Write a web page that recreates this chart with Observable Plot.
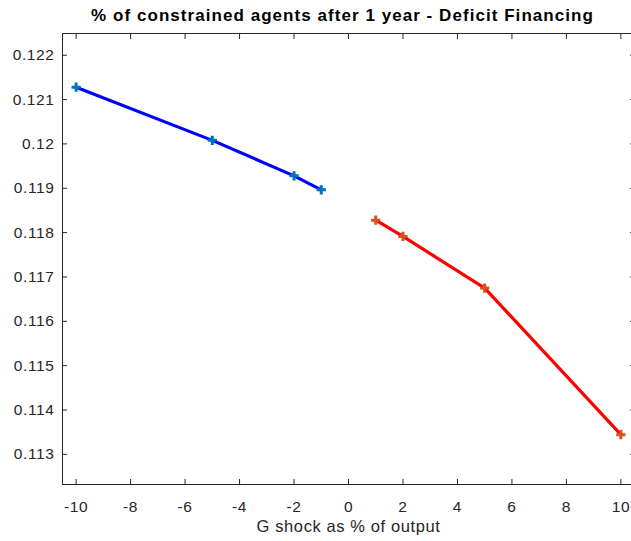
<!DOCTYPE html>
<html>
<head>
<meta charset="utf-8">
<script src="https://cdn.jsdelivr.net/npm/d3@7"></script>
<script src="https://cdn.jsdelivr.net/npm/@observablehq/plot@0.6"></script>
<style>
  html, body { margin: 0; padding: 0; background: #fff; overflow: hidden; }
</style>
</head>
<body>
<div id="chart"></div>
<script>
// Share of constrained agents one year after a government spending shock
// (deficit financed), for negative and positive shocks.
const shocksNeg = [-10, -5, -2, -1];
const constrainedNeg = [0.12128, 0.12008, 0.11928, 0.118965];
const shocksPos = [1, 2, 5, 10];
const constrainedPos = [0.11828, 0.117913, 0.11675, 0.113444];

const xTicks = [-10, -8, -6, -4, -2, 0, 2, 4, 6, 8, 10];
const yTicks = [0.113, 0.114, 0.115, 0.116, 0.117, 0.118, 0.119, 0.12, 0.121, 0.122];

const titleText = "% of constrained agents after 1 year - Deficit Financing";
const xLabelText = "G shock as % of output";

const neg = shocksNeg.map((x, i) => ({x, y: constrainedNeg[i]}));
const pos = shocksPos.map((x, i) => ({x, y: constrainedPos[i]}));

const ink = "#262626";
const font = "'Liberation Sans', Arial, Helvetica, sans-serif";
const fmtY = d => String(+d.toFixed(3));

const chart = Plot.plot({
  width: 631,
  height: 541,
  marginLeft: 62,
  marginRight: -3,
  marginTop: 33,
  marginBottom: 57,
  style: {fontFamily: font, fontSize: "15.5px", color: ink, background: "#fff", letterSpacing: "0.6px"},
  x: {domain: [-10.5, 10.5]},
  y: {domain: [0.11232, 0.12249]},
  marks: [
    Plot.frame({stroke: ink, strokeWidth: 1}),
    // tick labels
    Plot.axisX({anchor: "bottom", ticks: xTicks, tickSize: 0, tickPadding: 16, tickFormat: d => String(d), label: null, fontSize: 15.5}),
    Plot.axisY({anchor: "left", ticks: yTicks, tickSize: 0, tickPadding: 8, tickFormat: fmtY, label: null, fontSize: 15.5}),
    // inward ticks on all four sides
    Plot.axisX({anchor: "bottom", ticks: xTicks, tickSize: 5, dy: -5, fill: "none", label: null}),
    Plot.axisX({anchor: "top", ticks: xTicks, tickSize: 5, dy: 5, fill: "none", label: null}),
    Plot.axisY({anchor: "left", ticks: yTicks, tickSize: 5, dx: 5, fill: "none", label: null}),
    Plot.axisY({anchor: "right", ticks: yTicks, tickSize: 5, dx: -5, fill: "none", label: null}),
    // series
    Plot.line(neg, {x: "x", y: "y", stroke: "#0000ff", strokeWidth: 3.2}),
    Plot.line(pos, {x: "x", y: "y", stroke: "#ff0000", strokeWidth: 3.2}),
    Plot.dot(neg, {x: "x", y: "y", symbol: "plus", r: 3.1, stroke: "#0072bd", strokeWidth: 3}),
    Plot.dot(pos, {x: "x", y: "y", symbol: "plus", r: 3.1, stroke: "#d95319", strokeWidth: 3}),
    // axis label and title
    Plot.text([xLabelText], {text: d => d, frameAnchor: "bottom", dy: 47, fontSize: 16.5, fill: ink, lineAnchor: "bottom"}),
    Plot.text([titleText], {text: d => d, frameAnchor: "top", dx: -6, dy: -13, fontSize: 17, fontWeight: "bold", fill: "#000", lineAnchor: "bottom"})
  ]
});

// the title is set a little wider than the body text
chart.querySelectorAll("text").forEach(t => {
  if (t.textContent === titleText) t.style.letterSpacing = "1.05px";
});

document.getElementById("chart").appendChild(chart);
</script>
</body>
</html>
